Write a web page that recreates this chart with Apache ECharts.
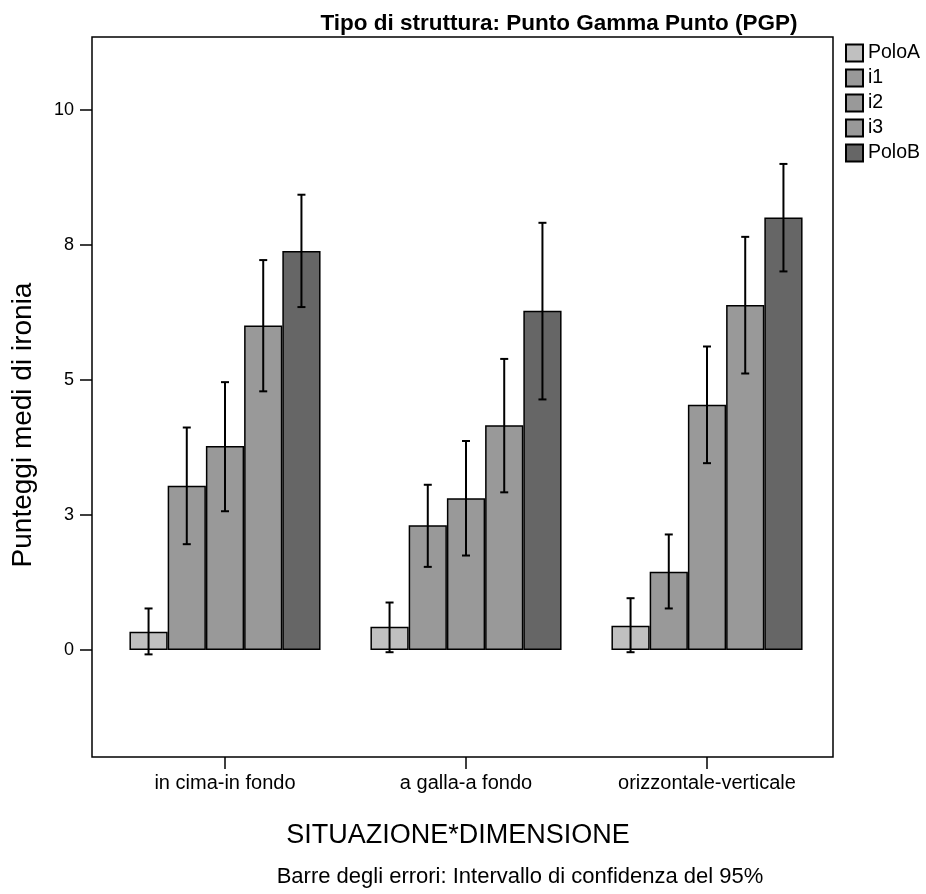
<!DOCTYPE html>
<html>
<head>
<meta charset="utf-8">
<script src="https://cdn.jsdelivr.net/npm/echarts@6/dist/echarts.min.js"></script>
<style>html,body{margin:0;padding:0;background:#fff}#c{width:926px;height:894px}</style>
</head>
<body>
<div id="c"></div>
<script>
const categories = ['in cima-in fondo', 'a galla-a fondo', 'orizzontale-verticale'];
const seriesNames = ['PoloA', 'i1', 'i2', 'i3', 'PoloB'];
const poloA = [0.34, 0.43, 0.45];
const poloALow = [-0.08, -0.04, -0.04];
const poloAHigh = [0.77, 0.88, 0.96];
const i1 = [3.04, 2.31, 1.45];
const i1Low = [1.96, 1.54, 0.77];
const i1High = [4.12, 3.06, 2.14];
const i2 = [3.78, 2.81, 4.54];
const i2Low = [2.57, 1.75, 3.46];
const i2High = [4.96, 3.87, 5.62];
const i3 = [6.01, 4.16, 6.39];
const i3Low = [4.79, 2.92, 5.12];
const i3High = [7.22, 5.39, 7.65];
const poloB = [7.39, 6.28, 8.01];
const poloBLow = [6.35, 4.64, 7.01];
const poloBHigh = [8.43, 7.91, 9.00];
const yTickValues = [0, 2.5, 5, 7.5, 10];

const means = [poloA, i1, i2, i3, poloB];
const lows = [poloALow, i1Low, i2Low, i3Low, poloBLow];
const highs = [poloAHigh, i1High, i2High, i3High, poloBHigh];
const colors = ['#c0c0c0', '#999999', '#999999', '#999999', '#666666'];
const FONT = 'Liberation Sans, Arial, sans-serif';
const CAT_GAP = 0.207;

const chart = echarts.init(document.getElementById('c'));
const series = [];
seriesNames.forEach((n, s) => {
  series.push({
    name: n, type: 'bar', data: means[s], barGap: 0, barCategoryGap: (CAT_GAP * 100) + '%',
    itemStyle: { color: colors[s], borderColor: '#000', borderWidth: 1.5 },
    emphasis: { disabled: true }, z: 2
  });
});
seriesNames.forEach((n, s) => {
  series.push({
    name: n + ' err', type: 'custom', z: 5,
    data: categories.map((c, k) => [k, lows[s][k], highs[s][k]]),
    renderItem: function (params, api) {
      const k = api.value(0);
      const band = api.size([1, 0])[0];
      const bw = band * (1 - CAT_GAP) / 5;
      const lo = api.coord([k, api.value(1)]);
      const hi = api.coord([k, api.value(2)]);
      const x = lo[0] + (s - 2) * bw;
      const cap = 4;
      const st = { stroke: '#000', lineWidth: 2 };
      return { type: 'group', children: [
        { type: 'line', shape: { x1: x, y1: lo[1], x2: x, y2: hi[1] }, style: st },
        { type: 'line', shape: { x1: x - cap, y1: lo[1], x2: x + cap, y2: lo[1] }, style: st },
        { type: 'line', shape: { x1: x - cap, y1: hi[1], x2: x + cap, y2: hi[1] }, style: st }
      ]};
    }
  });
});

chart.setOption({
  animation: false,
  backgroundColor: '#fff',
  textStyle: { fontFamily: FONT },
  title: {
    text: 'Tipo di struttura: Punto Gamma Punto (PGP)',
    left: 554, top: 7, textAlign: 'center',
    textStyle: { fontSize: 22.5, fontWeight: 'bold', color: '#000', fontFamily: FONT }
  },
  legend: {
    data: seriesNames, orient: 'vertical', left: 845, top: 43, padding: 0,
    itemWidth: 17, itemHeight: 17, itemGap: 5, icon: 'rect',
    textStyle: { fontSize: 19.5, lineHeight: 17, color: '#000', fontFamily: FONT, padding: [0, 0, 0, 0] },
    selectedMode: false
  },
  grid: { left: 104.5, right: 926 - 827.5, top: 37, bottom: 894 - 757, containLabel: false },
  xAxis: {
    type: 'category', data: categories,
    axisLine: { show: false, onZero: false },
    axisTick: { show: true, alignWithLabel: true, length: 12, lineStyle: { color: '#000', width: 1.5 } },
    axisLabel: { fontSize: 20, color: '#000', margin: 16, fontFamily: FONT },
    name: 'SITUAZIONE*DIMENSIONE', nameLocation: 'middle', nameGap: 65,
    nameTextStyle: { fontSize: 27, color: '#000', fontFamily: FONT, padding: [0, 16, 0, 0] }
  },
  yAxis: {
    type: 'value', min: -1.98, max: 11.35, offset: 12.5,
    splitLine: { show: false },
    axisLine: { show: false },
    axisTick: { show: true, length: 12, customValues: yTickValues, lineStyle: { color: '#000', width: 1.5 } },
    axisLabel: { fontSize: 18, color: '#000', margin: 18, customValues: yTickValues, fontFamily: FONT,
      formatter: v => String(Math.round(v)) }
  },
  graphic: [
    { type: 'rect', shape: { x: 92, y: 37, width: 741, height: 720 }, z: 10, silent: true,
      style: { fill: 'none', stroke: '#000', lineWidth: 1.5 } },
    { type: 'text', x: 23, y: 425, rotation: Math.PI / 2, z: 10,
      style: { text: 'Punteggi medi di ironia', fontSize: 28, fill: '#000', fontFamily: FONT,
        align: 'center', verticalAlign: 'middle' } },
    { type: 'text', x: 520, y: 877, z: 10,
      style: { text: 'Barre degli errori: Intervallo di confidenza del 95%', fontSize: 22, fill: '#000',
        fontFamily: FONT, align: 'center', verticalAlign: 'middle' } }
  ],
  series: series
});
</script>
</body>
</html>
